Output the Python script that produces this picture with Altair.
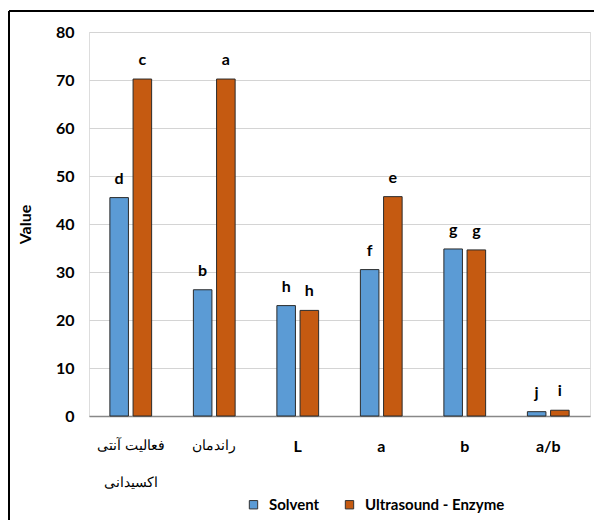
import altair as alt
import pandas as pd

categories = ["فعالیت آنتی\nاکسیدانی", "راندمان", "L", "a", "b", "a/b"]
methods = ["Solvent", "Ultrasound - Enzyme"]
solvent = [45.5, 26.3, 23.0, 30.5, 34.8, 0.9]
ultra = [70.2, 70.2, 22.0, 45.7, 34.6, 1.2]
letters_solvent = ["d", "b", "h", "f", "g", "j"]
letters_ultra = ["c", "a", "h", "e", "g", "i"]

rows = []
for i, c in enumerate(categories):
    rows.append({"category": c, "method": methods[0], "value": solvent[i], "letter": letters_solvent[i]})
    rows.append({"category": c, "method": methods[1], "value": ultra[i], "letter": letters_ultra[i]})
df = pd.DataFrame(rows)

FONT = "Lato, sans-serif"
latin_test = "test(regexp('[A-Za-z]'), datum.value)"

x_enc = alt.X(
    "category:N",
    sort=categories,
    scale=alt.Scale(paddingInner=0.5, paddingOuter=0.25),
    axis=alt.Axis(
        title=None,
        labelAngle=0,
        labelExpr="split(datum.label, '\\n')",
        labelLineHeight=37,
        labelPadding=22,
        labelFontSize={"condition": {"test": latin_test, "value": 16}, "value": 14},
        labelFont=FONT,
        labelFontWeight={"condition": {"test": latin_test, "value": "bold"}, "value": "normal"},
        labelColor="#000",
        ticks=False,
        domainColor="#888",
        domainWidth=1.5,
        grid=False,
    ),
)
xo_enc = alt.XOffset("method:N", sort=methods, scale=alt.Scale(paddingInner=0.2))
y_enc = alt.Y(
    "value:Q",
    scale=alt.Scale(domain=[0, 80]),
    axis=alt.Axis(
        title="Value",
        titleFont=FONT,
        titleFontSize=16,
        titleFontWeight="bold",
        titleColor="#000",
        titlePadding=22,
        values=[0, 10, 20, 30, 40, 50, 60, 70, 80],
        labelFont=FONT,
        labelFontSize=16,
        labelFontWeight="bold",
        labelColor="#000",
        labelPadding=15,
        ticks=False,
        domain=False,
        grid=True,
        gridColor="#d4d4d4",
        gridWidth=1.2,
    ),
)

base = alt.Chart(df)

bars = base.mark_bar(stroke="#2b2b2b", strokeWidth=1).encode(
    x=x_enc,
    xOffset=xo_enc,
    y=y_enc,
    fill=alt.Fill(
        "method:N",
        sort=methods,
        scale=alt.Scale(domain=methods, range=["#5B9BD5", "#C55A11"]),
        legend=alt.Legend(
            title=None,
            orient="none",
            legendX=157,
            legendY=465,
            direction="horizontal",
            symbolType="square",
            symbolSize=70,
            symbolStrokeColor="#333",
            symbolStrokeWidth=1,
            labelFont=FONT,
            labelFontSize=15,
            labelFontWeight="bold",
            labelColor="#000",
            labelOffset=8,
            columnPadding=22,
        ),
    ),
)

labels = base.mark_text(
    baseline="bottom", dy=-11, font=FONT, fontSize=16, fontWeight="bold", color="#000"
).encode(
    x=alt.X("category:N", sort=categories),
    xOffset=alt.XOffset("method:N", sort=methods),
    y="value:Q",
    text="letter:N",
)

frame_df = pd.DataFrame({"k": [0]})
left_border = alt.Chart(frame_df).mark_rule(color="#000", strokeWidth=2).encode(
    x=alt.value(-80), y=alt.value(-21), y2=alt.value(488)
)
top_border = alt.Chart(frame_df).mark_rule(color="#000", strokeWidth=2).encode(
    x=alt.value(-80), x2=alt.value(505), y=alt.value(-21)
)

chart = alt.layer(bars, labels, left_border, top_border).properties(
    width=501, height=384, padding={"left": 0, "top": 2, "right": 0, "bottom": 0}
).configure_view(
    stroke="#a0a0a0", strokeWidth=1.2
).configure(background="white")

chart.save("out.html", embed_options={"renderer": "svg", "actions": False})
